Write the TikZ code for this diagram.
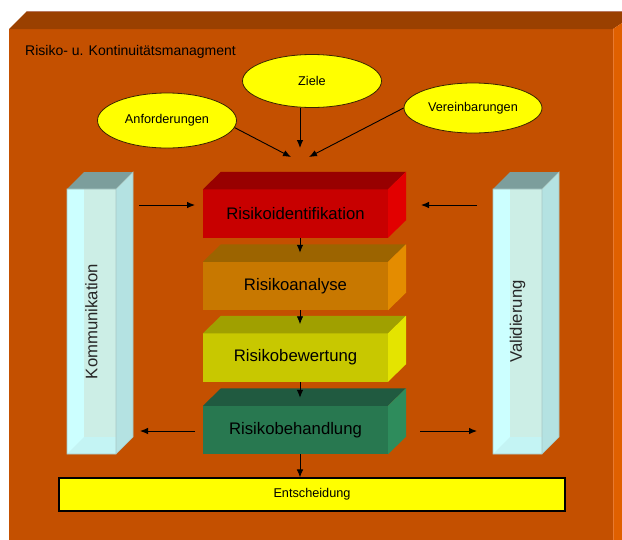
\documentclass[tikz,border=0pt]{standalone}
\usepackage{fontspec}
\setmainfont{Liberation Sans}
\usetikzlibrary{arrows.meta,calc,shapes.geometric}
\definecolor{bigF}{HTML}{C45000}
\definecolor{bigT}{HTML}{9A4000}
\definecolor{bigR}{HTML}{E06000}
\definecolor{bigEdge}{HTML}{B87860}
\definecolor{bigRE}{HTML}{E87A30}
\definecolor{yel}{HTML}{FFFF00}
\definecolor{ellEdge}{HTML}{3A2400}
\definecolor{redF}{HTML}{C80000}
\definecolor{redT}{HTML}{980000}
\definecolor{redR}{HTML}{E20000}
\definecolor{oraF}{HTML}{C87800}
\definecolor{oraT}{HTML}{9C6400}
\definecolor{oraR}{HTML}{E48C00}
\definecolor{yelF}{HTML}{C8C800}
\definecolor{yelT}{HTML}{A0A000}
\definecolor{yelR}{HTML}{E4E400}
\definecolor{grnF}{HTML}{287850}
\definecolor{grnT}{HTML}{205A40}
\definecolor{grnR}{HTML}{2E8C5C}
\definecolor{colA}{HTML}{CCFFFF}
\definecolor{colB}{HTML}{CCEEE6}
\definecolor{colC}{HTML}{C4F4F4}
\definecolor{colR}{HTML}{B4E2E2}
\definecolor{colT}{HTML}{7C9E9C}
\definecolor{colE}{HTML}{A8C8C4}
\newcommand{\rkcolumn}[4]{%
  \begin{scope}[shift={(#1,#2)}]
    \fill[colA] (0,0) rectangle (49,265);
    \fill[colB] (17,0) rectangle (49,248);
    \fill[colC] (0,265) -- (17,248) -- (49,248) -- (49,265) -- cycle;
    \fill[colR] (49,0) -- (66,-17) -- (66,248) -- (49,265) -- cycle;
    \fill[colT] (0,0) -- (17,-17) -- (66,-17) -- (49,0) -- cycle;
    \draw[colE, line width=0.6pt] (0,0) rectangle (49,265) (49,0) -- (66,-17) -- (66,248) -- (49,265);
    \node[collabel] (#3) at (24.5,132.5) {#4};
  \end{scope}}
\newcommand{\rkbox}[6]{%
  \node[cubefront, fill=#3] (#1) at (295.5,#2) {#6};
  \fill[#4] (#1.north west) -- ++(18,-17.5) -- ++(185,0) -- (#1.north east) -- cycle;
  \fill[#5] (#1.north east) -- ++(18,-17.5) -- ++(0,48.5) -- (#1.south east) -- cycle;}
\begin{document}
\begin{tikzpicture}[x=1pt,y=-1pt,
  arr/.style={-{Latex[length=8pt,width=6.5pt]}, line width=0.9pt, black},
  ell/.style={ellipse, fill=yel, draw=ellEdge, line width=0.8pt, inner sep=0pt, font=\fontsize{12.7}{14}\selectfont},
  cubefront/.style={rectangle, minimum width=185pt, minimum height=48.5pt, inner sep=0pt, outer sep=0pt, font=\fontsize{16.7}{19}\selectfont},
  collabel/.style={rotate=90, inner sep=0pt, font=\fontsize{16.7}{19}\selectfont, text=black!85}]
\useasboundingbox (0,0) rectangle (622,539);
\clip (0,0) rectangle (622,539);
% big box
\fill[bigF] (9,29) rectangle (613,560);
\fill[bigT] (9,29) -- (27,11) -- (640,11) -- (613,29) -- cycle;
\fill[bigR] (613,29) -- (640,11) -- (640,560) -- (613,560) -- cycle;
\draw[bigEdge, line width=0.8pt] (27,11) -- (640,11);
\draw[bigRE, line width=0.8pt] (613,29) -- (613,560);
\node[anchor=base west, inner sep=0pt, font=\fontsize{14}{16}\selectfont] (title) at (25,55) {Risiko- u. Kontinuitätsmanagment};
% ellipses
\node[ell, minimum width=139pt, minimum height=55pt] (anf) at (167,120.5) {Anforderungen};
\node[ell, minimum width=139pt, minimum height=53pt] (ziele) at (312,81) {Ziele};
\node[ell, minimum width=138pt, minimum height=50pt] (vere) at (473,108) {Vereinbarungen};
\coordinate (ta) at (291,157);
\coordinate (tz) at (300,148);
\coordinate (tv) at (309,157);
\draw[arr] (anf.-6) -- (ta);
\draw[arr] (ziele.south -| tz) -- (tz);
\draw[arr] (vere.west) -- (tv);
% columns
\rkcolumn{67}{189}{komm}{Kommunikation}
\rkcolumn{493}{189}{vali}{Validierung}
% process boxes
\rkbox{ident}{213.5}{redF}{redT}{redR}{Risikoidentifikation}
\rkbox{ana}{286}{oraF}{oraT}{oraR}{Risikoanalyse}
\rkbox{bew}{357.5}{yelF}{yelT}{yelR}{Risikobewertung}
\rkbox{beh}{430}{grnF}{grnT}{grnR}{Risikobehandlung}
\node[draw=black, fill=yel, line width=1.1pt, minimum width=506pt, minimum height=33pt, inner sep=0pt, font=\fontsize{12.7}{14}\selectfont] (ent) at (312,494.5) {Entscheidung};
% vertical arrows
\coordinate (ax) at (300,0);
\draw[arr] (ident.south -| ax) -- ($(ana.north -| ax)+(0,-9)$);
\draw[arr] (ana.south -| ax) -- ($(bew.north -| ax)+(0,-9)$);
\draw[arr] (bew.south -| ax) -- ($(beh.north -| ax)+(0,-8)$);
\draw[arr] (beh.south -| ax) -- (ent.north -| ax);
% side arrows
\coordinate (k1) at (139,205);
\coordinate (k2) at (195,205);
\coordinate (k3) at (195,431);
\coordinate (k4) at (140,431);
\coordinate (v1) at (477,205);
\coordinate (v2) at (421,205);
\coordinate (v3) at (420,431);
\coordinate (v4) at (477,431);
\draw[arr] (k1) -- (k2);
\draw[arr] (k3) -- (k4);
\draw[arr] (v1) -- (v2);
\draw[arr] (v3) -- (v4);
\end{tikzpicture}
\end{document}
